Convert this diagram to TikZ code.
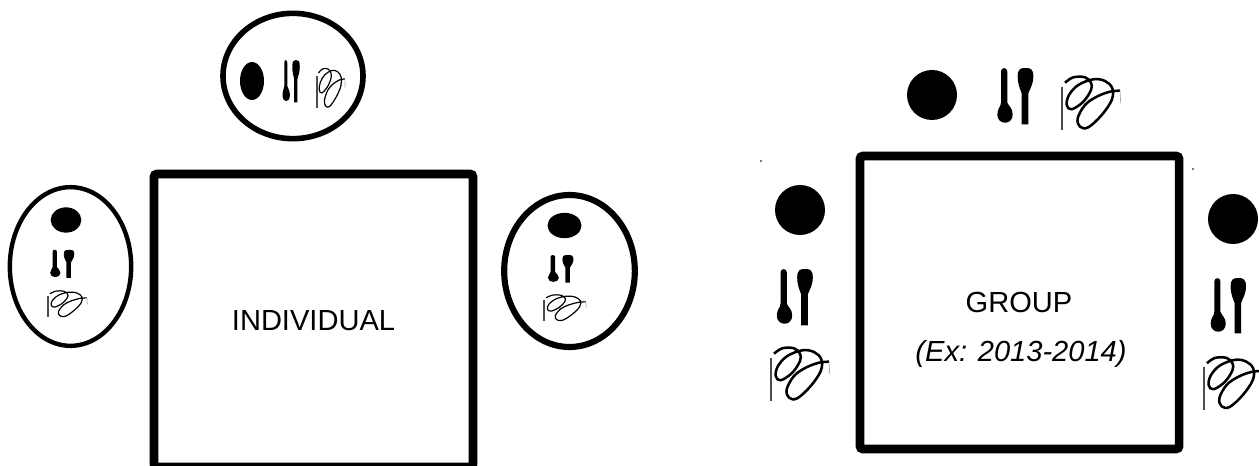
\documentclass[tikz,border=0pt]{standalone}
\usepackage{fontspec}
\usepackage{xcolor}
\usetikzlibrary{shapes.geometric}
\setmainfont{Liberation Sans}
\tikzset{
  tablebox/.style={draw,line width=6.4pt,rounded corners=2pt,inner sep=0pt,
    minimum width=239.25pt,minimum height=219.75pt,font=\fontsize{21.8}{26}\selectfont},
  seatring/.style={draw,ellipse,inner sep=0pt},
  platedot/.style={fill=black,ellipse,inner sep=0pt},
  tabletext/.style={font=\fontsize{21.8}{26}\selectfont},
  speck/.style={fill=black!70,circle,inner sep=0pt,minimum size=1.6pt},
  pics/cutlery/.style={code={
    \fill (-14,-25) .. controls (-14,-29.5) and (-7.7,-29.5) .. (-7.7,-25)
      -- (-7.7,6) .. controls (-6,10) and (-2.3,12) .. (-2.3,18)
      .. controls (-2.3,29) and (-17.7,29) .. (-17.7,18)
      .. controls (-17.7,12) and (-14,10) .. (-14,6) -- cycle;
    \fill (6.7,28) -- (6.7,-3) .. controls (5,-8) and (2.7,-12) .. (2.7,-20)
      .. controls (2.7,-28) and (6,-28.5) .. (10.5,-28.5)
      .. controls (15,-28.5) and (18.3,-28) .. (18.3,-20)
      .. controls (18.3,-12) and (15,-8) .. (13.3,-3) -- (13.3,28) -- cycle;
  }},
  pics/scribble/.style={code={
    \draw[black!70,line width=#1] (0,-21)--(0,22);
    \draw[line width=#1,line join=round] plot[smooth,tension=0.6] coordinates{
      (3,-25.3)(11.3,-30.7)(23,-30.7)(29,-25.3)(29,-18)(21.3,-6.3)(9.7,1.3)(4.7,-3)
      (7,-13)(16.3,-23)(31.3,-28.7)(43,-27)(50.3,-19.7)(49.7,-8)(39.7,7)(26.3,19.3)
      (18,18.7)(15.7,10.3)(23,-3)(34.7,-11.3)(48,-16.3)(58,-17.3)};
    \draw[black!35,line width=0.5pt] (58,-17.3)--(58.7,-4.7);
  }}
}
\begin{document}
\begin{tikzpicture}[x=0.75pt,y=-0.75pt]
  \useasboundingbox (0,0) rectangle (1259,466);
  % individual table
  \node[tablebox] (indiv) at (313.5,320.5) {INDIVIDUAL};
  \node[seatring,line width=4.2pt,minimum width=105pt,minimum height=94pt] (seattop) at (293,76) {};
  \node[seatring,line width=3.3pt,minimum width=91pt,minimum height=119pt] (seatleft) at (70.5,266.5) {};
  \node[seatring,line width=4.6pt,minimum width=98pt,minimum height=114pt] (seatright) at (569.5,271) {};
  \node[platedot,minimum width=18pt,minimum height=28.5pt] (platetop) at (252,81) {};
  \node[platedot,minimum width=23pt,minimum height=19pt] (plateleft) at (66,220) {};
  \node[platedot,minimum width=25.5pt,minimum height=19pt] (plateright) at (564.5,225.5) {};
  \pic[xscale=0.48,yscale=0.75] at (291,81.5) {cutlery};
  \pic[xscale=0.67,yscale=0.5] at (62,264) {cutlery};
  \pic[xscale=0.71,yscale=0.49] at (560.5,269) {cutlery};
  \pic[xscale=0.48,yscale=0.75] at (317,92) {scribble=0.9pt};
  \pic[xscale=0.67,yscale=0.5] at (48,306.5) {scribble=0.9pt};
  \pic[xscale=0.72,yscale=0.5] at (544,310.5) {scribble=0.9pt};
  % group table
  \node[tablebox] (group) at (1019.5,302.5) {};
  \node[tabletext] (grouptitle) at (1019,302.5) {GROUP};
  \node[tabletext] (groupyears) at (1021,354) {\itshape (Ex: 2013-2014)};
  \node[platedot,minimum size=37.5pt] (groupplatetop) at (932,95) {};
  \node[platedot,minimum size=37.5pt] (groupplateleft) at (800,210) {};
  \node[platedot,minimum size=37.5pt] (groupplateright) at (1233,219) {};
  \pic at (1015,96.5) {cutlery};
  \pic at (794.5,297.5) {cutlery};
  \pic[scale=0.98] at (1228,306) {cutlery};
  \pic at (1062,108) {scribble=1.9pt};
  \pic at (771,379) {scribble=1.9pt};
  \pic[scale=0.98] at (1204,388) {scribble=1.9pt};
  \node[speck] (speckleft) at (761,161) {};
  \node[speck] (speckright) at (1193,169) {};
\end{tikzpicture}
\end{document}
